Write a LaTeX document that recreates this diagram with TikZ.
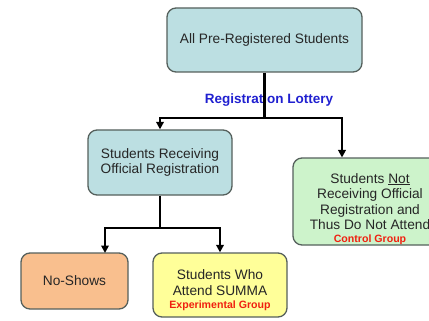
\documentclass[tikz,border=0pt]{standalone}
\usepackage{fontspec}
\setmainfont{Liberation Sans}
\usetikzlibrary{arrows.meta}
\definecolor{boxblue}{HTML}{BCDFE2}
\definecolor{boxgreen}{HTML}{CDF3CB}
\definecolor{boxorange}{HTML}{F9BF8E}
\definecolor{boxyellow}{HTML}{FFFF99}
\definecolor{bordergray}{HTML}{55605C}
\definecolor{lblblue}{HTML}{2020D0}
\definecolor{lblred}{HTML}{F02010}
\tikzset{
  box/.style={draw=bordergray, line width=1.3pt, rounded corners=9pt, align=center,
    inner sep=0pt, font=\fontsize{13.7}{15.5}\selectfont, text=black!85},
  txt/.style={align=center, inner sep=0pt, font=\fontsize{13.7}{15.5}\selectfont, text=black!85},
  conn/.style={line width=2.4pt, black},
  arr/.style={conn, -{Stealth[length=7.5pt,width=7.5pt,inset=0pt]}},
  grp/.style={font=\fontsize{10.6}{12}\selectfont\bfseries, text=lblred}
}
\newcommand{\grouplabel}[1]{{\fontsize{10.6}{12}\selectfont\bfseries\color{lblred}#1}}
\begin{document}
\begin{tikzpicture}[x=1pt,y=-1pt]
\useasboundingbox (0,0) rectangle (429,321);
\node[box, fill=boxblue, minimum width=195pt, minimum height=64pt] (top) at (264.5,40) {All Pre-Registered Students};
\node[box, fill=boxblue, minimum width=144pt, minimum height=65pt] (left) at (160,162.5) {Students Receiving\\Official Registration};
\node[box, fill=boxgreen, minimum width=154pt, minimum height=87pt] (right) at (370,201.5) {};
\node[txt] (righttext) at (370,209) {Students \underline{Not}\\Receiving Official\\Registration and\\Thus Do Not Attend\\[-2.5pt]\grouplabel{Control Group}};
\node[box, fill=boxorange, minimum width=107pt, minimum height=56pt] (noshow) at (74.5,281) {No-Shows};
\node[box, fill=boxyellow, minimum width=134pt, minimum height=64pt] (attend) at (220,285) {};
\node[txt] (attendtext) at (220,290) {Students Who\\Attend SUMMA\\[-2.5pt]\grouplabel{Experimental Group}};
\node[font=\fontsize{13.5}{15}\selectfont\bfseries, text=lblblue] (lottery) at (269,100) {Registration Lottery};
\coordinate (h) at (top.south |- 0,118);
\coordinate (hl) at (left.north |- 0,118);
\coordinate (hr) at (342,118);
\coordinate (hrb) at (342,157.5);
\draw[conn] (top.south) -- (h);
\draw[arr] (h) -- (hl) -- (left.north);
\draw[arr] (h) -- (hr) -- (hrb);
\coordinate (b) at (left.south |- 0,228);
\coordinate (bl) at (105,228);
\coordinate (blb) at (105,253);
\coordinate (br) at (attend.north |- 0,228);
\draw[conn] (left.south) -- (b);
\draw[arr] (b) -- (bl) -- (blb);
\draw[arr] (b) -- (br) -- (attend.north);
\end{tikzpicture}
\end{document}
